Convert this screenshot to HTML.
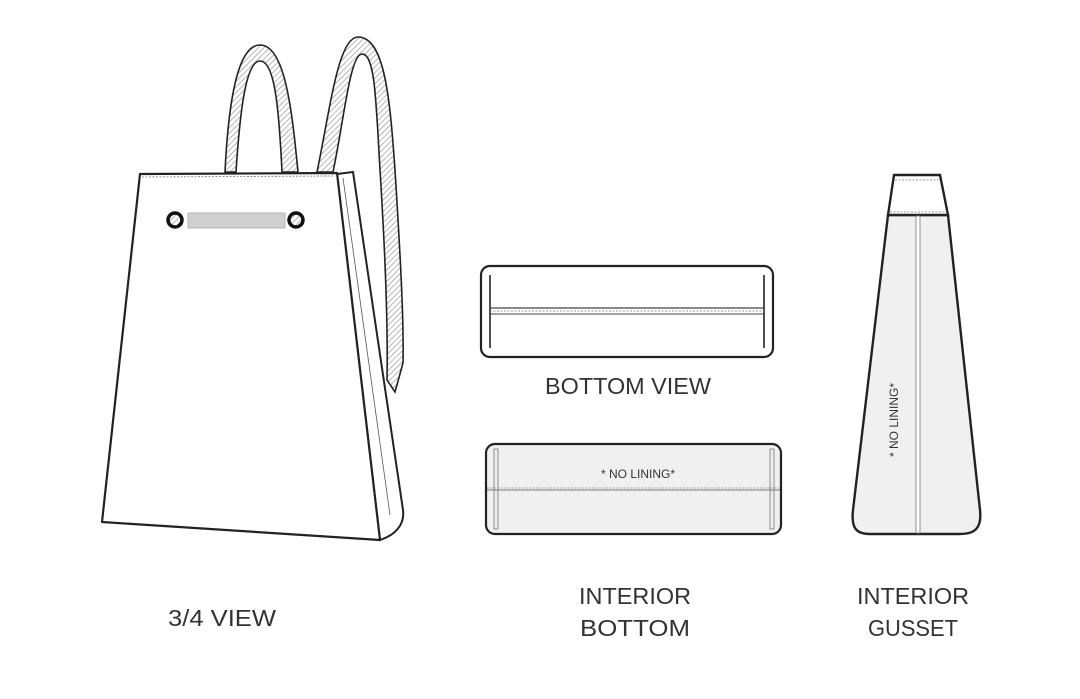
<!DOCTYPE html>
<html><head><meta charset="utf-8"><style>
html,body{margin:0;padding:0;background:#fff;}
svg{display:block}
text{font-family:"Liberation Sans",sans-serif;fill:#333}
</style></head><body>
<svg width="1080" height="699" viewBox="0 0 1080 699" xmlns="http://www.w3.org/2000/svg">
<defs>
<pattern id="h" patternUnits="userSpaceOnUse" width="4" height="4" patternTransform="rotate(45)">
<rect width="4" height="4" fill="#fff"/><line x1="0" y1="0" x2="0" y2="4" stroke="#999" stroke-width="1.4"/>
</pattern>
</defs>
<!-- right strap -->
<path d="M317,172 C330,110 338,37 358,37 C385,37 390,100 395,170 C400,250 404,320 403,363 L395,392 L387,380 C388,330 385,250 380,170 C376,100 375,54 362,54 C350,54 344,120 333,172 Z" fill="url(#h)" stroke="#222" stroke-width="1.6"/>
<!-- left strap -->
<path d="M225,172 C228,110 236,45 260,45 C285,45 292,110 298,172 L282,172 C279,110 275,61 260,61 C246,61 240,110 236,172 Z" fill="url(#h)" stroke="#222" stroke-width="1.6"/>
<!-- side panel -->
<path d="M337,174 L353,172 L403,510 C405,525 395,535 380,540 Z" fill="#fff" stroke="#222" stroke-width="2"/>
<path d="M343,178 L390,515" stroke="#555" stroke-width="0.8" fill="none"/>
<!-- front -->
<path d="M140,174 L337,173 L380,540 L102,522 Z" fill="#fff" stroke="#222" stroke-width="2.2" stroke-linejoin="round"/>
<line x1="142" y1="177" x2="335" y2="176" stroke="#777" stroke-width="0.8" stroke-dasharray="2,1.5"/>
<!-- drawstring -->
<circle cx="175" cy="220" r="7" fill="url(#h)" stroke="#111" stroke-width="3.5"/>
<circle cx="296" cy="220" r="7" fill="url(#h)" stroke="#111" stroke-width="3.5"/>
<rect x="188" y="213" width="97" height="15" fill="#d0d0d0" stroke="#aaa" stroke-width="0.8"/>
<!-- bottom view -->
<rect x="481" y="266" width="292" height="91" rx="9" fill="#fff" stroke="#222" stroke-width="2.2"/>
<line x1="490" y1="275" x2="490" y2="348" stroke="#222" stroke-width="1.6"/>
<line x1="764" y1="275" x2="764" y2="348" stroke="#222" stroke-width="1.6"/>
<line x1="490" y1="308" x2="764" y2="308" stroke="#444" stroke-width="1.2"/>
<line x1="490" y1="311" x2="764" y2="311" stroke="#777" stroke-width="0.7" stroke-dasharray="2,1.5"/>
<line x1="490" y1="314" x2="764" y2="314" stroke="#444" stroke-width="1"/>
<text x="628" y="394" font-size="23" text-anchor="middle" textLength="166" lengthAdjust="spacingAndGlyphs">BOTTOM VIEW</text>
<!-- interior bottom -->
<rect x="486" y="444" width="295" height="90" rx="9" fill="#f0f0f0" stroke="#222" stroke-width="2.2"/>
<rect x="494" y="449" width="4" height="80" fill="#eee" stroke="#777" stroke-width="0.8"/>
<rect x="770" y="449" width="4" height="80" fill="#eee" stroke="#777" stroke-width="0.8"/>
<line x1="487" y1="488" x2="780" y2="488" stroke="#888" stroke-width="0.8" stroke-dasharray="2,1.5"/>
<line x1="487" y1="490" x2="780" y2="490" stroke="#555" stroke-width="0.8"/>
<text x="638" y="478" font-size="12" text-anchor="middle">* NO LINING*</text>
<!-- gusset -->
<path d="M888,215 L948,215 L980,510 C982,528 975,534 960,534 L870,534 C856,534 851,528 853,510 Z" fill="#f0f0f0" stroke="#222" stroke-width="2.4"/>
<path d="M894,175 L940,175 L948,215 L888,215 Z" fill="#fff" stroke="#222" stroke-width="2.4"/>
<line x1="895" y1="180" x2="940" y2="180" stroke="#777" stroke-width="0.8" stroke-dasharray="2,1.5"/>
<line x1="890" y1="212" x2="946" y2="212" stroke="#777" stroke-width="0.8" stroke-dasharray="2,1.5"/>
<rect x="916" y="216" width="4" height="317" fill="#fff" stroke="#777" stroke-width="0.8"/>
<text font-size="12" text-anchor="middle" transform="translate(898,420) rotate(-90)">* NO LINING*</text>
<!-- labels -->
<text x="222" y="626" font-size="23" text-anchor="middle" textLength="108" lengthAdjust="spacingAndGlyphs">3/4 VIEW</text>
<text x="635" y="604" font-size="23" text-anchor="middle" textLength="112" lengthAdjust="spacingAndGlyphs">INTERIOR</text>
<text x="635" y="636" font-size="23" text-anchor="middle" textLength="110" lengthAdjust="spacingAndGlyphs">BOTTOM</text>
<text x="913" y="604" font-size="23" text-anchor="middle" textLength="112" lengthAdjust="spacingAndGlyphs">INTERIOR</text>
<text x="913" y="636" font-size="23" text-anchor="middle" textLength="90" lengthAdjust="spacingAndGlyphs">GUSSET</text>
</svg>
</body></html>
